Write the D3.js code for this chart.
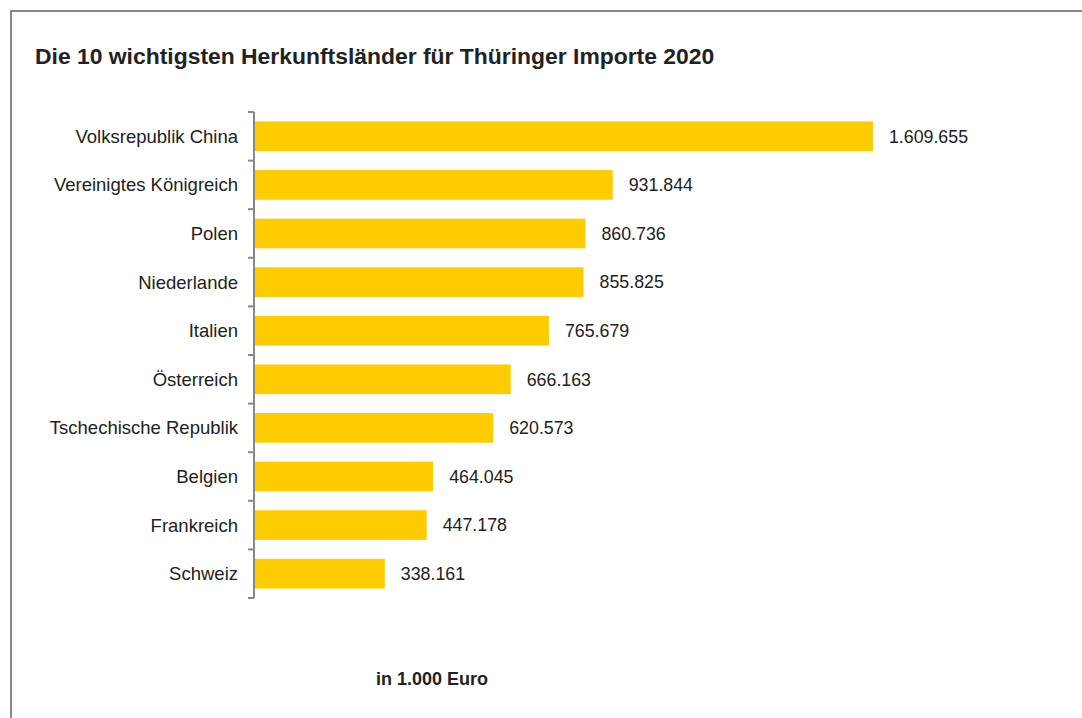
<!DOCTYPE html>
<html>
<head>
<meta charset="utf-8">
<script src="https://cdn.jsdelivr.net/npm/d3@7"></script>
<style>
  body { margin: 0; background: #fff; }
  svg text { font-family: "Liberation Sans", Arial, sans-serif; fill: #222; }
</style>
</head>
<body>
<div id="chart"></div>
<script>
// Countries and import values (in 1.000 Euro)
var countries = ['Volksrepublik China', 'Vereinigtes Königreich', 'Polen', 'Niederlande', 'Italien',
  'Österreich', 'Tschechische Republik', 'Belgien', 'Frankreich', 'Schweiz'];
var values = [1609655, 931844, 860736, 855825, 765679, 666163, 620573, 464045, 447178, 338161];
var valueLabels = ['1.609.655', '931.844', '860.736', '855.825', '765.679',
  '666.163', '620.573', '464.045', '447.178', '338.161'];

var chartTitle = 'Die 10 wichtigsten Herkunftsländer für Thüringer Importe 2020';
var unitLabel = 'in 1.000 Euro';

var width = 1082, height = 718;

var svg = d3.select('#chart').append('svg')
  .attr('width', width)
  .attr('height', height);

// Frame (only left and top edges visible)
svg.append('rect')
  .attr('x', 11).attr('y', 11)
  .attr('width', 1200).attr('height', 900)
  .attr('fill', 'none')
  .attr('stroke', '#888')
  .attr('stroke-width', 2);

// Title
svg.append('text')
  .attr('x', 35).attr('y', 64)
  .attr('font-size', 22.9)
  .attr('font-weight', 'bold')
  .text(chartTitle);

var data = countries.map(function (c, i) {
  return { country: c, value: values[i], label: valueLabels[i] };
});

var y = d3.scaleBand()
  .domain(countries)
  .range([112, 598])
  .paddingInner(0.39)
  .paddingOuter(0.195);

var x = d3.scaleLinear()
  .domain([0, 1800000])
  .range([255, 946]);

// Bars
svg.selectAll('.bar')
  .data(data)
  .enter().append('rect')
  .attr('class', 'bar')
  .attr('x', x(0))
  .attr('y', function (d) { return y(d.country); })
  .attr('height', y.bandwidth())
  .attr('width', function (d) { return x(d.value) - x(0); })
  .attr('fill', '#FFCC00');

// Axis line with ticks at category boundaries
var axisX = 254;
var bounds = d3.range(countries.length + 1).map(function (i) { return 112 + i * y.step(); });
svg.append('line')
  .attr('x1', axisX).attr('x2', axisX)
  .attr('y1', bounds[0]).attr('y2', bounds[bounds.length - 1])
  .attr('stroke', '#888').attr('stroke-width', 2);
svg.selectAll('.tick')
  .data(bounds)
  .enter().append('line')
  .attr('class', 'tick')
  .attr('x1', axisX - 6).attr('x2', axisX)
  .attr('y1', function (d) { return d; })
  .attr('y2', function (d) { return d; })
  .attr('stroke', '#888').attr('stroke-width', 2);

// Category labels
svg.selectAll('.cat')
  .data(data)
  .enter().append('text')
  .attr('class', 'cat')
  .attr('x', 238)
  .attr('y', function (d) { return y(d.country) + y.bandwidth() / 2; })
  .attr('dy', '0.35em')
  .attr('text-anchor', 'end')
  .attr('font-size', 18.5)
  .text(function (d) { return d.country; });

// Value labels
svg.selectAll('.val')
  .data(data)
  .enter().append('text')
  .attr('class', 'val')
  .attr('x', function (d) { return x(d.value) + 16; })
  .attr('y', function (d) { return y(d.country) + y.bandwidth() / 2; })
  .attr('dy', '0.35em')
  .attr('font-size', 17.8)
  .text(function (d) { return d.label; });

// Unit label
svg.append('text')
  .attr('x', 432).attr('y', 685)
  .attr('text-anchor', 'middle')
  .attr('font-size', 18)
  .attr('font-weight', 'bold')
  .text(unitLabel);
</script>
</body>
</html>
